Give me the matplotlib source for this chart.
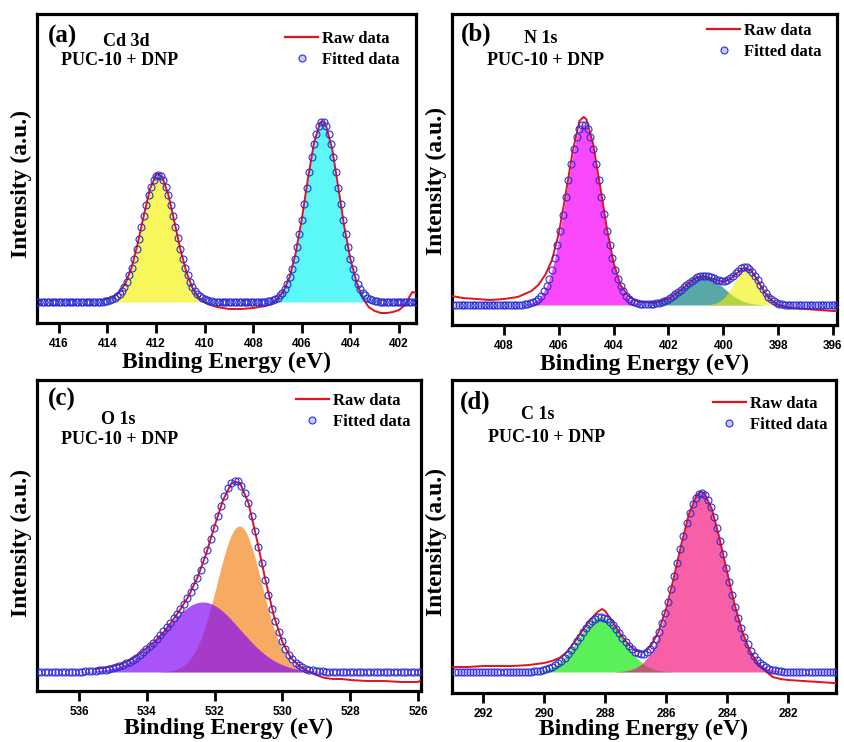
import numpy as np
import matplotlib
matplotlib.use("Agg")
import matplotlib.pyplot as plt
from matplotlib.lines import Line2D

# ---------------- data ----------------
# (a) Cd 3d
a_raw_energy = [414.1, 413.9, 413.75, 413.5, 413.25, 413.0, 412.75, 412.5, 412.25, 412.0,
                411.9, 411.75, 411.5, 411.25, 411.0, 410.75, 410.5, 410.25, 410.0, 409.75,
                409.5, 409.0, 408.5, 408.0, 407.5, 407.25, 407.0, 406.75, 406.5, 406.25,
                406.0, 405.75, 405.5, 405.25, 405.15, 405.0, 404.75, 404.5, 404.25, 404.0,
                403.75, 403.5, 403.25, 403.0, 402.75, 402.5, 402.25, 402.0, 401.75, 401.6,
                401.45, 401.3]
a_raw_intensity = [3, 4, 5, 10, 19, 35, 59, 87, 113, 127,
                   128, 125, 108, 81, 53, 30, 14, 5, 0, -3,
                   -5, -7, -7, -6, -4, -2, 3, 11, 25, 49,
                   83, 123, 159, 179, 181, 176, 153, 115, 75, 43,
                   20, 4, -5, -9, -11, -11, -10, -8, -3, 4,
                   10, 9]
a_peak_center = [411.9, 405.15]
a_peak_height = [127, 180]
a_peak_fwhm = [1.6, 1.6]

# (b) N 1s
b_raw_energy = [409.9, 409.5, 409.0, 408.5, 408.0, 407.5, 407.25, 407.0, 406.75, 406.5,
                406.25, 406.0, 405.75, 405.5, 405.25, 405.1, 405.0, 404.75, 404.5, 404.25,
                404.0, 403.75, 403.5, 403.25, 403.0, 402.5, 402.0, 401.75, 401.5, 401.25,
                401.0, 400.75, 400.5, 400.25, 400.0, 399.75, 399.5, 399.25, 399.0, 398.75,
                398.5, 398.25, 398.0, 397.5, 397.0, 396.5, 396.0, 395.85]
b_raw_intensity = [9, 7, 6, 5, 6, 8, 11, 14, 20, 30,
                   45, 72, 111, 153, 184, 188, 186, 161, 120, 77,
                   42, 20, 10, 5, 3, 2, 6, 11, 16, 22,
                   27, 29, 27, 25, 23, 26, 32, 37, 35, 25,
                   13, 5, 0, -3, -4, -5, -6, -6]
b_peak_center = [405.1, 400.73, 399.15]
b_peak_height = [181, 29, 35]
b_peak_fwhm = [1.5, 1.7, 1.1]

# (c) O 1s
c_raw_energy = [535.5, 535.0, 534.75, 534.5, 534.25, 534.0, 533.75, 533.5, 533.25, 533.0,
                532.75, 532.5, 532.25, 532.0, 531.75, 531.5, 531.35, 531.25, 531.0, 530.75,
                530.5, 530.25, 530.0, 529.75, 529.5, 529.25, 529.0, 528.75, 528.5, 528.25,
                528.0, 527.5, 527.0, 526.5, 526.0, 525.9]
c_raw_intensity = [3, 6, 8, 12, 17, 24, 31, 40, 51, 63,
                   77, 95, 118, 146, 172, 189, 190, 189, 169, 132,
                   92, 56, 30, 14, 6, 1, -3, -6, -7, -7,
                   -8, -9, -9, -10, -10, -8]
c_peak_center = [531.27, 532.35]
c_peak_height = [146, 70]
c_peak_fwhm = [1.55, 2.6]

# (d) C 1s
d_raw_energy = [293.0, 292.5, 292.0, 291.5, 291.0, 290.5, 290.25, 290.0, 289.75, 289.5,
                289.25, 289.0, 288.75, 288.5, 288.25, 288.1, 288.0, 287.75, 287.5, 287.25,
                287.0, 286.75, 286.5, 286.25, 286.0, 285.75, 285.5, 285.25, 285.0, 284.85,
                284.75, 284.5, 284.25, 284.0, 283.75, 283.5, 283.25, 283.0, 282.75, 282.5,
                282.25, 282.0, 281.5, 281.0, 280.5, 280.43]
d_raw_intensity = [5, 5, 6, 6, 6, 7, 8, 9, 11, 14,
                   20, 30, 41, 52, 60, 63, 61, 50, 38, 28,
                   21, 20, 26, 40, 63, 94, 128, 158, 177, 180,
                   179, 163, 134, 100, 67, 40, 21, 8, 1, -5,
                   -7, -8, -9, -10, -11, -11]
d_peak_center = [288.15, 284.85]
d_peak_height = [55, 179]
d_peak_fwhm = [1.7, 1.85]

panel_letters = ["(a)", "(b)", "(c)", "(d)"]
core_levels = ["Cd 3d", "N 1s", "O 1s", "C 1s"]
sample_name = "PUC-10 + DNP"
xticks_list = [[416, 414, 412, 410, 408, 406, 404, 402],
               [408, 406, 404, 402, 400, 398, 396],
               [536, 534, 532, 530, 528, 526],
               [292, 290, 288, 286, 284, 282]]

# ---------------- styling / layout ----------------
W, H = 845, 742
SERIF = ["Liberation Serif", "Times New Roman", "DejaVu Serif"]
NARROW = ["Liberation Sans Narrow", "Liberation Sans", "DejaVu Sans"]
RED = "#e3121b"
BLUE = "#2e2ed6"

def rect(l, t, r, b):
    return [l / W, 1 - b / H, (r - l) / W, (b - t) / H]

panels = [
    dict(rect=rect(37, 14, 416, 323), xlim=(416.9, 401.3), ylim=(-21, 288),
         raw=(a_raw_energy, a_raw_intensity),
         peaks=(a_peak_center, a_peak_height, a_peak_fwhm),
         colors=["#f7f75c", "#5cf7f7"], alphas=[1, 1],
         letter=(0.067, 0.928), core=(0.235, 0.910), samp=(0.218, 0.848),
         leg=(0.654, 0.946), ylab=(-0.013, 0.451), xlab=-0.092),
    dict(rect=rect(452, 14, 837, 325), xlim=(409.9, 395.85), ylim=(-20, 291),
         raw=(b_raw_energy, b_raw_intensity),
         peaks=(b_peak_center, b_peak_height, b_peak_fwhm),
         colors=["#fa48fa", "#58a8a8", "#f3f300"], alphas=[1, 1, 0.6],
         letter=(0.064, 0.935), core=(0.231, 0.922), samp=(0.244, 0.849),
         leg=(0.662, 0.972), ylab=(-0.013, 0.463), xlab=-0.092),
    dict(rect=rect(37, 380, 421, 691), xlim=(537.24, 525.91), ylim=(-19, 292),
         raw=(c_raw_energy, c_raw_intensity),
         peaks=(c_peak_center, c_peak_height, c_peak_fwhm),
         colors=["#f7aa62", "#830cf4"], alphas=[1, 0.7],
         letter=(0.065, 0.938), core=(0.211, 0.872), samp=(0.216, 0.809),
         leg=(0.674, 0.959), ylab=(-0.013, 0.476), xlab=-0.086),
    dict(rect=rect(452, 380, 836, 693), xlim=(293.02, 280.43), ylim=(-21, 292),
         raw=(d_raw_energy, d_raw_intensity),
         peaks=(d_peak_center, d_peak_height, d_peak_fwhm),
         colors=["#5af05a", "#f40b79"], alphas=[1, 0.65],
         letter=(0.06, 0.929), core=(0.224, 0.891), samp=(0.245, 0.816),
         leg=(0.679, 0.948), ylab=(-0.013, 0.481), xlab=-0.084),
]


def gauss(x, c, h, f):
    return h * np.exp(-4 * np.log(2) * (x - c) ** 2 / f ** 2)


fig = plt.figure(figsize=(W / 100, H / 100), dpi=100)

for i, p in enumerate(panels):
    ax = fig.add_axes(p["rect"])
    lo, hi = min(p["xlim"]), max(p["xlim"])
    xf = np.linspace(lo, hi, 1500)
    centers, heights, fwhms = p["peaks"]
    for c, h, f, col, al in zip(centers, heights, fwhms, p["colors"], p["alphas"]):
        g = gauss(xf, c, h, f)
        ax.fill_between(xf, 0, g, where=g > 0.3, color=col, alpha=al, lw=0, zorder=2)
    # raw data line
    ax.plot(p["raw"][0], p["raw"][1], color=RED, lw=1.4, zorder=3)
    # fitted data (sum of components) as open circles
    xc = np.arange(lo, hi + 0.001, 0.1)
    fit = sum(gauss(xc, c, h, f) for c, h, f in zip(centers, heights, fwhms))
    ax.plot(xc, fit, ls="none", marker="o", ms=5, mfc="none", mec=BLUE, mew=0.8, zorder=4)

    ax.set_xlim(*p["xlim"])
    ax.set_ylim(*p["ylim"])
    ax.set_yticks([])
    ax.set_xticks(xticks_list[i])
    ax.set_xticklabels([str(t) for t in xticks_list[i]], family=NARROW,
                       fontweight="bold", fontsize=8.5)
    ax.tick_params(axis="x", direction="out", length=7, width=2, pad=4)
    for s in ax.spines.values():
        s.set_linewidth(2.3)

    ax.set_xlabel("Binding Energy (eV)", family=SERIF, fontweight="bold", fontsize=17)
    ax.xaxis.set_label_coords(0.5, p["xlab"])
    ax.set_ylabel("Intensity (a.u.)", family=SERIF, fontweight="bold", fontsize=17)
    ax.yaxis.set_label_coords(*p["ylab"])

    ax.text(*p["letter"], panel_letters[i], transform=ax.transAxes, ha="center",
            va="center", family=SERIF, fontweight="bold", fontsize=18)
    ax.text(*p["core"], core_levels[i], transform=ax.transAxes, ha="center",
            va="center", family=SERIF, fontweight="bold", fontsize=13)
    ax.text(*p["samp"], sample_name, transform=ax.transAxes, ha="center",
            va="center", family=SERIF, fontweight="bold", fontsize=13)

    handles = [Line2D([], [], color=RED, lw=1.6),
               Line2D([], [], ls="none", marker="o", ms=5, mfc="#c8c8ff", mec=BLUE, mew=0.8)]
    ax.legend(handles, ["Raw data", "Fitted data"], loc="upper left",
              bbox_to_anchor=p["leg"], frameon=False, borderpad=0, borderaxespad=0,
              handlelength=2.0, handletextpad=0.25, labelspacing=0.3,
              prop=dict(family=SERIF, weight="bold", size=12))

fig.savefig("out.png", dpi=100)
